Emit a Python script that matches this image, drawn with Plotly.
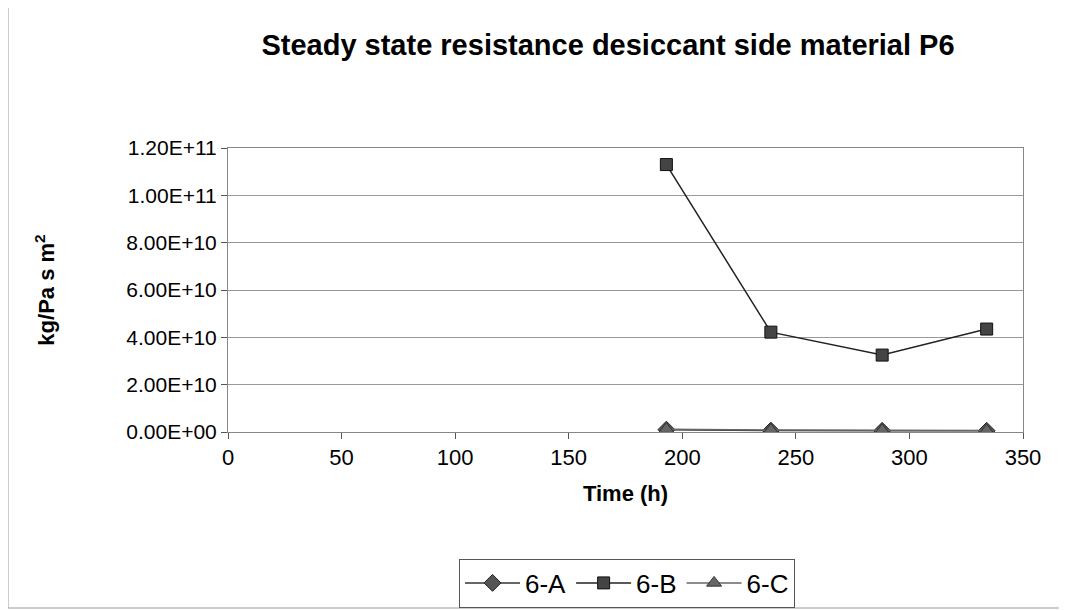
import plotly.graph_objects as go

# data
hours = [193, 239, 288, 334]
res_6a = [1.0e9, 6.0e8, 5.0e8, 5.0e8]
res_6b = [1.13e11, 4.22e10, 3.25e10, 4.35e10]
res_6c = [1.2e9, 8.0e8, 7.0e8, 6.0e8]
y_ticks = [0, 2e10, 4e10, 6e10, 8e10, 1e11, 1.2e11]
x_ticks = [0, 50, 100, 150, 200, 250, 300, 350]

# page body has an 8px margin, so the figure starts 8px in
OFF = 8
W, H = 1067 - OFF, 610 - OFF
L, R, T, B = 228 - OFF, 44, 148 - OFF, 178


def px_x(p):
    return (p - OFF - L) / (W - L - R)


def px_y(p):
    return 1 - (p - OFF - T) / (H - T - B)


fig = go.Figure()
fig.add_trace(go.Scatter(x=hours, y=res_6a, name='6-A', mode='lines+markers',
                         line=dict(color='#333333', width=1.5),
                         marker=dict(symbol='diamond', size=13, color='#555555',
                                     line=dict(color='#222222', width=1))))
fig.add_trace(go.Scatter(x=hours, y=res_6b, name='6-B', mode='lines+markers',
                         line=dict(color='#222222', width=1.5),
                         marker=dict(symbol='square', size=12, color='#444444',
                                     line=dict(color='#111111', width=1))))
fig.add_trace(go.Scatter(x=hours, y=res_6c, name='6-C', mode='lines+markers',
                         line=dict(color='#666666', width=1.5),
                         marker=dict(symbol='triangle-up', size=13, color='#666666',
                                     line=dict(color='#333333', width=1))))

font = 'Liberation Sans, Arial, sans-serif'
fig.update_layout(
    width=W, height=H,
    margin=dict(l=L, r=R, t=T, b=B, autoexpand=False),
    paper_bgcolor='white', plot_bgcolor='white',
    font=dict(family=font, color='black', size=21),
    title=dict(text='<b>Steady state resistance desiccant side material P6</b>',
               x=px_x(608), xanchor='center', xref='paper',
               y=1 - (45 - OFF) / H, yanchor='middle',
               font=dict(size=29)),
    showlegend=True,
    legend=dict(orientation='h', x=px_x(627), xanchor='center', y=px_y(583), yanchor='middle',
                bordercolor='#555555', borderwidth=1, font=dict(size=26),
                itemwidth=55, tracegroupgap=0),
    xaxis=dict(range=[0, 350], tickvals=x_ticks, ticks='outside', ticklen=6,
               tickcolor='#555555',
               showline=True, linecolor='#888888', mirror=True, showgrid=False,
               zeroline=False, tickfont=dict(size=22),
               title=dict(text='<b>Time (h)</b>', font=dict(size=22), standoff=16)),
    yaxis=dict(range=[0, 1.2e11], tickvals=y_ticks,
               ticktext=[f'{v:.2E}' for v in y_ticks], ticks='outside', ticklen=6,
               tickcolor='#555555',
               showline=True, linecolor='#888888', mirror=True,
               showgrid=True, gridcolor='#999999', gridwidth=1, zeroline=False,
               tickfont=dict(size=21),
               title=dict(text='<b>kg/Pa s m<sup>2</sup></b>', font=dict(size=22), standoff=65)),
)

# outer chart border
fig.add_shape(type='rect', xref='paper', yref='paper',
              x0=px_x(8), x1=px_x(1062), y0=px_y(608), y1=px_y(3),
              line=dict(color='#999999', width=1))

fig.write_html("out.html")
